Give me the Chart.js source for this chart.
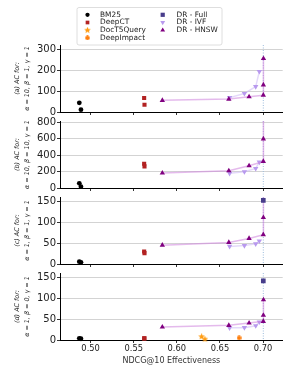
<!DOCTYPE html>
<html>
<head>
<meta charset="utf-8">
<script src="https://cdn.jsdelivr.net/npm/chart.js@4.4.0/dist/chart.umd.min.js"></script>
<style>
html, body { margin: 0; padding: 0; background: #fff; }
#wrap { position: relative; width: 293px; height: 377px; }
#wrap canvas { position: absolute; left: 0; top: 0; }
</style>
</head>
<body>
<div id="wrap">
<canvas id="pd" width="293" height="377"></canvas>
<canvas id="pc" width="293" height="377"></canvas>
<canvas id="pb" width="293" height="377"></canvas>
<canvas id="pa" width="293" height="377"></canvas>
</div>
<script>
// NDCG@10 of each system (x axis)
var bm25Ndcg = [0.4869, 0.4888];
var deepctNdcg = [0.5621, 0.5625];
var doct5Ndcg = [0.6287, 0.6326];
var deepImpactNdcg = [0.6722];
var fullNdcg = [0.7003];
var ivfNdcg = [0.6612, 0.6784, 0.6915, 0.6957];
var hnswNdcg = [0.5832, 0.6603, 0.6838, 0.7003, 0.7004, 0.7005];

// AC values, one set per panel
var bm25A = [44, 11], bm25B = [57, 16], bm25C = [5.5, 4], bm25D = [4, 3];
var deepctA = [67, 35], deepctB = [295, 263], deepctC = [30, 26], deepctD = [4, 4];
var doct5D = [8, 2];
var deepImpactD = [5];
var fullC = [152], fullD = [141];
var ivfA = [69, 89, 122, 195];
var ivfB = [178, 198, 238, 315];
var ivfC = [42, 44, 48, 55];
var ivfD = [29, 29.5, 34, 43];
var hnswA = [56, 62, 73, 81, 130, 257];
var hnswB = [182, 210, 270, 323, 598, 1000];
var hnswC = [45, 51.5, 61, 70, 111, 190];
var hnswD = [31, 35, 40.5, 44.5, 59, 96];

// axis labels and ticks
var panelLabels = [
	['(a) AC for:', 'α = 10, β = 1, γ = 1'],
	['(b) AC for:', 'α = 10, β = 10, γ = 1'],
	['(c) AC for:', 'α = 1, β = 1, γ = 1'],
	['(d) AC for:', 'α = 1, β = 0, γ = 1']
];
var yTicksA = [0, 100, 200, 300];
var yTicksB = [0, 200, 400, 600, 800];
var yTicksC = [0, 50, 100, 150];
var yTicksD = [0, 50, 100, 150];
var panelMax = [322, 815, 160, 160];
var xTicks = [0.50, 0.55, 0.60, 0.65, 0.70];
var xMin = 0.4645, xMax = 0.7228;

// small marker images for the matplotlib star / hexagon
function makeMarker(kind, color, size) {
	var c = document.createElement('canvas');
	c.width = size; c.height = size;
	var g = c.getContext('2d');
	var cx = size / 2, cy = size / 2, R = size / 2;
	g.fillStyle = color;
	g.beginPath();
	if (kind === 'star') {
		for (var i = 0; i < 10; i++) {
			var r = i % 2 === 0 ? R : R * 0.45;
			var a = -Math.PI / 2 + i * Math.PI / 5;
			g.lineTo(cx + r * Math.cos(a), cy + r * Math.sin(a));
		}
	} else {
		for (var j = 0; j < 6; j++) {
			var b = -Math.PI / 2 + j * Math.PI / 3;
			g.lineTo(cx + R * Math.cos(b), cy + R * Math.sin(b));
		}
	}
	g.closePath();
	g.fill();
	return c;
}

var starImg = makeMarker('star', '#ff9c12', 7);
var hexImg = makeMarker('hex', '#ff7f0e', 5);

var styles = {
	bm25: { label: 'BM25', color: '#000000', pointStyle: 'circle', radius: 2.4, rotation: 0 },
	deepct: { label: 'DeepCT', color: '#b22222', pointStyle: 'rect', radius: 2.9, rotation: 0 },
	doct5: { label: 'DocT5Query', color: '#ff9c12', pointStyle: starImg, radius: 3, rotation: 0 },
	deepImpact: { label: 'DeepImpact', color: '#ff7f0e', pointStyle: hexImg, radius: 3, rotation: 0 },
	full: { label: 'DR - Full', color: '#483d8b', pointStyle: 'rect', radius: 3.3, rotation: 0 },
	ivf: { label: 'DR - IVF', color: '#b899ee', pointStyle: 'triangle', radius: 3.1, rotation: 180 },
	hnsw: { label: 'DR - HNSW', color: '#800080', pointStyle: 'triangle', radius: 3.1, rotation: 0 }
};

function pair(xs, ys) {
	var out = [];
	for (var i = 0; i < ys.length; i++) {
		if (ys[i] != null) out.push({ x: xs[i], y: ys[i] });
	}
	return out;
}

function ds(key, xs, ys, lineColor) {
	var s = styles[key];
	return {
		label: s.label,
		data: pair(xs, ys),
		pointStyle: s.pointStyle,
		pointRadius: s.radius,
		pointRotation: s.rotation,
		pointBackgroundColor: s.color,
		pointBorderColor: s.color,
		pointBorderWidth: 0,
		showLine: !!lineColor,
		borderColor: lineColor || s.color,
		borderWidth: 1.5,
		clip: { left: 6, top: 0, right: 6, bottom: 6 }
	};
}

// dotted vertical line at the DR - Full effectiveness
var fullLine = {
	id: 'fullLine',
	beforeDatasetsDraw: function (chart) {
		var ctx = chart.ctx, a = chart.chartArea;
		var x = chart.scales.x.getPixelForValue(fullNdcg[0]);
		ctx.save();
		ctx.strokeStyle = '#9dbcdc';
		ctx.lineWidth = 1;
		ctx.setLineDash([1, 1.5]);
		ctx.beginPath();
		ctx.moveTo(x, a.top);
		ctx.lineTo(x, a.bottom);
		ctx.stroke();
		ctx.restore();
	}
};

// matplotlib style legend drawn on the top panel
var boxLegend = {
	id: 'boxLegend',
	afterDraw: function (chart) {
		var ctx = chart.ctx;
		ctx.save();
		ctx.fillStyle = '#ffffff';
		ctx.strokeStyle = '#d6d6d6';
		ctx.lineWidth = 0.8;
		ctx.beginPath();
		ctx.roundRect(77, 7.5, 145, 37.5, 2);
		ctx.fill();
		ctx.stroke();
		var cols = [['bm25', 'deepct', 'doct5', 'deepImpact'], ['full', 'ivf', 'hnsw']];
		var mx = [87.5, 162.7], tx = [100, 176.5];
		ctx.font = '7.4px "DejaVu Sans"';
		ctx.textBaseline = 'middle';
		for (var c = 0; c < cols.length; c++) {
			for (var r = 0; r < cols[c].length; r++) {
				var s = styles[cols[c][r]];
				var y = 14.8 + r * 7.7;
				ctx.fillStyle = s.color;
				ctx.strokeStyle = s.color;
				Chart.helpers.drawPoint(ctx, { pointStyle: s.pointStyle, radius: s.radius * 0.9, rotation: s.rotation, borderWidth: 0 }, mx[c], y);
				ctx.fillStyle = '#222';
				ctx.fillText(s.label, tx[c], y);
			}
		}
		ctx.restore();
	}
};

var panelTop = [45, 121, 197, 273];
var panelBottom = [112, 188, 264, 340];
var panelTicks = [yTicksA, yTicksB, yTicksC, yTicksD];

function makePanel(id, idx, datasets) {
	var last = idx === 3;
	var xH = last ? 37 : 4;
	var plugins = [fullLine];
	if (idx === 0) plugins.push(boxLegend);
	return new Chart(document.getElementById(id), {
		type: 'scatter',
		data: { datasets: datasets },
		plugins: plugins,
		options: {
			responsive: false,
			animation: false,
			devicePixelRatio: 1,
			layout: { padding: { top: panelTop[idx], bottom: 377 - panelBottom[idx] - xH, left: 0, right: 10.3 } },
			plugins: { legend: { display: false }, tooltip: { enabled: false } },
			scales: {
				x: {
					type: 'linear',
					min: xMin,
					max: xMax,
					afterFit: function (s) { s.height = xH; },
					afterBuildTicks: function (s) { s.ticks = xTicks.map(function (v) { return { value: v }; }); },
					border: { display: true, color: '#000', width: 1 },
					grid: { drawOnChartArea: false, drawTicks: true, tickLength: 3, tickColor: '#000', tickWidth: 0.8 },
					ticks: {
						display: last,
						padding: 1,
						color: '#222',
						font: { family: 'DejaVu Sans', size: 8.3 },
						maxRotation: 0,
						autoSkip: false,
						callback: function (v) { return v.toFixed(2); }
					},
					title: {
						display: last,
						text: 'NDCG@10 Effectiveness',
						color: '#333',
						font: { family: 'DejaVu Sans', size: 8 },
						padding: { top: 0, bottom: 11 }
					}
				},
				y: {
					min: 0,
					max: panelMax[idx],
					afterFit: function (s) { s.width = 60; },
					afterBuildTicks: function (s) { s.ticks = panelTicks[idx].map(function (v) { return { value: v }; }); },
					border: { display: true, color: '#000', width: 1 },
					grid: { color: '#c8c8c8', lineWidth: 0.8, borderDash: [1, 1.5], tickLength: 3, tickColor: '#000', tickWidth: 0.8 },
					ticks: {
						padding: 1,
						color: '#222',
						autoSkip: false,
						font: { family: 'DejaVu Sans', size: 10 }
					},
					title: {
						display: true,
						text: panelLabels[idx],
						color: '#222',
						font: { family: 'DejaVu Sans', size: 6.4, style: 'italic', lineHeight: 1.55 },
						padding: { top: 12.5, bottom: 0 }
					}
				}
			}
		}
	});
}

function buildSets(bm, dct, d5, di, full, ivf, hnsw) {
	return [
		ds('full', fullNdcg, full),
		ds('hnsw', hnswNdcg, hnsw, 'rgba(205, 130, 220, 0.55)'),
		ds('ivf', ivfNdcg, ivf, 'rgba(205, 185, 245, 0.55)'),
		ds('deepImpact', deepImpactNdcg, di),
		ds('doct5', doct5Ndcg, d5),
		ds('deepct', deepctNdcg, dct),
		ds('bm25', bm25Ndcg, bm)
	];
}

makePanel('pa', 0, buildSets(bm25A, deepctA, [], [], [], ivfA, hnswA));
makePanel('pb', 1, buildSets(bm25B, deepctB, [], [], [], ivfB, hnswB));
makePanel('pc', 2, buildSets(bm25C, deepctC, [], [], fullC, ivfC, hnswC));
makePanel('pd', 3, buildSets(bm25D, deepctD, doct5D, deepImpactD, fullD, ivfD, hnswD));
</script>
</body>
</html>
